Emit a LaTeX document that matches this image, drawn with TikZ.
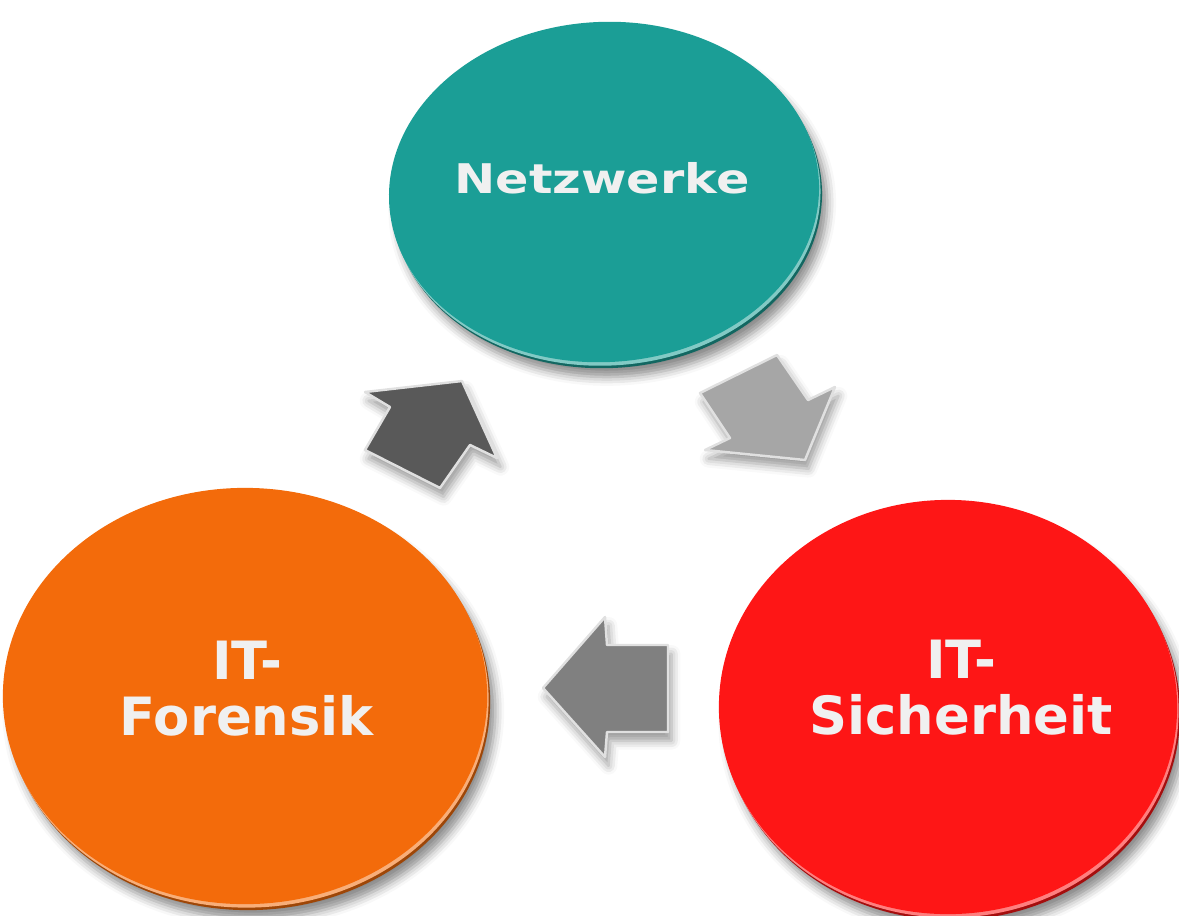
\documentclass[tikz,border=0pt]{standalone}
\usepackage{fontspec}
\setmainfont{DejaVu Sans}
\usetikzlibrary{shapes.geometric,shadows.blur}

\definecolor{netzteal}{HTML}{1B9E96}
\definecolor{forensikorange}{HTML}{F36B0B}
\definecolor{sicherred}{HTML}{FE1616}
\definecolor{labelwhite}{HTML}{F0F0F0}
\definecolor{arrowdark}{HTML}{595959}
\definecolor{arrowmid}{HTML}{808080}
\definecolor{arrowlight}{HTML}{A6A6A6}

\tikzset{
  disk/.style={ellipse, inner sep=0pt, fill=#1},
  rim/.style={ellipse, inner sep=0pt, fill=#1!65!black,
    blur shadow={shadow xshift=1.5pt, shadow yshift=-2.5pt,
      shadow blur radius=2.5pt, shadow opacity=45}},
  glint/.style={ellipse, inner sep=0pt, fill=#1!55!white},
  disktext/.style={text=labelwhite, align=center,
    font=\bfseries\fontsize{15}{16}\selectfont},
  blockarrow/.style={fill=#1, draw=white!88!black, line width=0.7pt,
    line join=round,
    blur shadow={shadow xshift=1pt, shadow yshift=-2.5pt,
      shadow blur radius=2.5pt, shadow opacity=40}},
}

\begin{document}
\begin{tikzpicture}[x=0.01cm, y=0.01cm]
    \useasboundingbox (0,0) rectangle (1179,-915);

    % the three disks: rim and glint first, face on top
    \node[rim=netzteal, minimum width=4.3cm, minimum height=3.4cm, rotate=3] (netzrim) at (607,-198) {};
    \node[glint=netzteal, minimum width=4.3cm, minimum height=3.4cm, rotate=3] (netzglint) at (605.5,-195.5) {};
    \node[disk=netzteal, minimum width=4.3cm, minimum height=3.4cm, rotate=3] (netz) at (604,-192) {};

    \node[rim=forensikorange, minimum width=4.84cm, minimum height=4.16cm] (forrim) at (248,-702) {};
    \node[glint=forensikorange, minimum width=4.84cm, minimum height=4.16cm] (forglint) at (246.5,-699.5) {};
    \node[disk=forensikorange, minimum width=4.84cm, minimum height=4.16cm] (for) at (245,-696) {};

    \node[rim=sicherred, minimum width=4.58cm, minimum height=4.14cm] (sichrim) at (951,-713) {};
    \node[glint=sicherred, minimum width=4.58cm, minimum height=4.14cm] (sichglint) at (949.5,-710.5) {};
    \node[disk=sicherred, minimum width=4.58cm, minimum height=4.14cm] (sich) at (948,-707) {};

    % labels
    \node[disktext, font=\bfseries\fontsize{14}{16}\selectfont, yscale=0.83, transform shape] (netzlabel) at (602,-178) {Netzwerke};
    \node[disktext] (forlabel) at (247,-689) {IT-\\Forensik};
    \node[disktext] (sichlabel) at (961,-688) {IT-\\Sicherheit};

    % block arrows between the disks
    \filldraw[blockarrow=arrowdark] (462,-381) -- (497,-458) -- (470,-445) -- (440,-488)
        -- (365,-450) -- (390,-407) -- (365,-392) -- cycle;
    \filldraw[blockarrow=arrowlight] (700,-393) -- (777,-355) -- (808,-400) -- (835,-387)
        -- (805,-460) -- (705,-450) -- (730,-438) -- cycle;
    \filldraw[blockarrow=arrowmid] (543,-688) -- (605,-617) -- (607,-645) -- (668,-645)
        -- (668,-732) -- (607,-732) -- (605,-757) -- cycle;
\end{tikzpicture}
\end{document}
